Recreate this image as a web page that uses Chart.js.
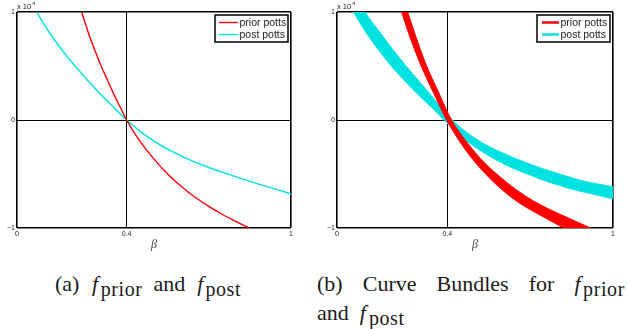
<!DOCTYPE html>
<html><head><meta charset="utf-8">
<script src="https://cdn.jsdelivr.net/npm/chart.js@4.4.0/dist/chart.umd.min.js"></script>
<style>
html,body{margin:0;padding:0;background:#fff;width:627px;height:329px;overflow:hidden;position:relative}
#ca{position:absolute;left:0;top:0}
#cb{position:absolute;left:320px;top:0}
.cap{position:absolute;font-family:"Liberation Serif","DejaVu Serif","Times New Roman",serif;font-size:22px;line-height:29px;color:#1a1a1a;white-space:nowrap}
.cap i{font-style:italic;font-family:"Liberation Serif","DejaVu Serif",serif}
.cap sub{font-family:"Liberation Serif","DejaVu Serif",serif;font-size:20px;vertical-align:-5px;letter-spacing:0.6px;line-height:0}
#capb1{display:flex;justify-content:space-between;width:308px}
</style></head>
<body>
<canvas id="ca" width="310" height="255"></canvas>
<canvas id="cb" width="307" height="255"></canvas>
<div class="cap" style="left:55px;top:269px">(a)<i style="margin-left:12.6px">f</i><sub style="margin-left:2.5px">prior</sub><span style="margin-left:11px">and</span><i style="margin-left:12px">f</i><sub style="margin-left:2px">post</sub></div>
<div class="cap" id="capb1" style="left:317px;top:269px"><span>(b)</span><span>Curve</span><span>Bundles</span><span>for</span><span><i>f</i><sub style="margin-left:2.5px">prior</sub></span></div>
<div class="cap" style="left:317px;top:298px">and<i style="margin-left:11px">f</i><sub style="margin-left:3px">post</sub></div>
<script>
// ---- axes ----
const xTicks = [0, 0.4, 1];
const xTickLabels = ['0', '0.4', '1'];
const yTicks = [-1, 0, 1];
const yTickLabels = ['\u22121', '0', '1'];
const xTitle = '\u03B2';
const expBase = 'x 10';
const expPow = '4';
const seriesNames = ['prior potts', 'post potts'];

// ---- panel (a): single curves (values in units of 10^4) ----
const priorBeta = [0.236, 0.25, 0.266, 0.285, 0.305, 0.33, 0.355, 0.378, 0.40, 0.44, 0.48, 0.52, 0.56, 0.60, 0.65, 0.70, 0.75, 0.80, 0.847];
const priorVal  = [1.0, 0.89, 0.766, 0.64, 0.512, 0.37, 0.23, 0.113, 0.0, -0.165, -0.30, -0.42, -0.525, -0.615, -0.715, -0.80, -0.875, -0.94, -1.0];
const postBeta  = [0.072, 0.10, 0.13, 0.17, 0.208, 0.25, 0.297, 0.35, 0.40, 0.45, 0.50, 0.55, 0.60, 0.65, 0.70, 0.75, 0.80, 0.85, 0.90, 0.95, 1.0];
const postVal   = [1.0, 0.88, 0.766, 0.63, 0.512, 0.39, 0.259, 0.125, 0.0, -0.105, -0.195, -0.27, -0.335, -0.39, -0.44, -0.485, -0.527, -0.568, -0.607, -0.645, -0.685];

// ---- panel (b): bundle edges ----
const priorLoBeta = [0.234, 0.26, 0.30, 0.35, 0.397, 0.45, 0.50, 0.55, 0.60, 0.65, 0.70, 0.75, 0.80, 0.822, 0.86, 0.919];
const priorLoVal  = [1.0, 0.80, 0.53, 0.25, 0.0, -0.22, -0.39, -0.53, -0.65, -0.75, -0.83, -0.90, -0.97, -1.0, -1.04, -1.1];
const priorHiBeta = [0.234, 0.256, 0.282, 0.32, 0.369, 0.415, 0.475, 0.532, 0.592, 0.652, 0.712, 0.772, 0.832, 0.892, 0.919];
const priorHiVal  = [1.17, 1.0, 0.8, 0.53, 0.25, 0.0, -0.22, -0.39, -0.53, -0.65, -0.75, -0.83, -0.90, -0.97, -1.0];
const postLoBeta  = [0.06, 0.10, 0.15, 0.20, 0.25, 0.30, 0.35, 0.388, 0.45, 0.50, 0.55, 0.60, 0.65, 0.70, 0.75, 0.80, 0.85, 0.90, 0.95, 1.0];
const postLoVal   = [1.0, 0.83, 0.65, 0.49, 0.35, 0.22, 0.10, 0.0, -0.15, -0.25, -0.33, -0.40, -0.46, -0.51, -0.56, -0.60, -0.64, -0.67, -0.70, -0.73];
const postHiBeta  = [0.06, 0.101, 0.15, 0.20, 0.25, 0.30, 0.35, 0.418, 0.45, 0.50, 0.55, 0.60, 0.65, 0.70, 0.75, 0.80, 0.85, 0.90, 0.95, 1.0];
const postHiVal   = [1.17, 1.0, 0.83, 0.66, 0.50, 0.35, 0.20, 0.0, -0.075, -0.17, -0.245, -0.305, -0.36, -0.41, -0.455, -0.495, -0.535, -0.57, -0.595, -0.62];

const RED = '#ff0000';
const CYAN = '#00e2e2';
const SANS = '"Liberation Sans", Arial, Helvetica, sans-serif';

const pts = (xs, ys) => xs.map((x, i) => ({x, y: ys[i]}));

const boxLegend = {
  id: 'boxLegend',
  afterDraw(chart, args, opts) {
    const {ctx, chartArea: a} = chart;
    ctx.save();
    ctx.fillStyle = '#222';
    ctx.textAlign = 'left';
    ctx.textBaseline = 'alphabetic';
    ctx.font = '7.5px ' + SANS;
    ctx.fillText(expBase, a.left, a.top - 3.5);
    const w = ctx.measureText(expBase).width;
    ctx.font = '5px ' + SANS;
    ctx.fillText(expPow, a.left + w + 1, a.top - 7);
    const bw = 73, bh = 27;
    const bx = a.right - 3 - bw, by = a.top + 3;
    ctx.fillStyle = '#fff';
    ctx.fillRect(bx, by, bw, bh);
    ctx.strokeStyle = '#000';
    ctx.lineWidth = 1.5;
    ctx.strokeRect(bx, by, bw, bh);
    ctx.font = '10.5px ' + SANS;
    ctx.textBaseline = 'middle';
    opts.colors.forEach((c, i) => {
      const yy = by + 7.5 + 12 * i;
      ctx.strokeStyle = c;
      ctx.lineWidth = opts.lineWidth;
      ctx.beginPath();
      ctx.moveTo(bx + opts.x0, yy);
      ctx.lineTo(bx + opts.x1, yy);
      ctx.stroke();
      ctx.fillStyle = '#222';
      ctx.fillText(seriesNames[i], bx + opts.x1 + 1.5, yy + 0.5);
    });
    ctx.restore();
  }
};

function scales(rightPad) {
  return {
    x: {
      type: 'linear', min: 0, max: 1,
      afterBuildTicks: s => { s.ticks = xTicks.map(v => ({value: v})); },
      afterFit: s => { s.height = 27; },
      ticks: {
        autoSkip: false, maxRotation: 0, padding: 1.5, color: '#222',
        font: {family: SANS, size: 7},
        callback: (v, i) => xTickLabels[i]
      },
      grid: {
        drawTicks: false, color: '#000',
        lineWidth: c => (c.tick && (c.tick.value === 0 || c.tick.value === 1)) ? 1.6 : 1
      },
      border: {display: false},
      title: {
        display: true, text: xTitle, color: '#444',
        font: {family: '"Liberation Serif", "DejaVu Serif", serif', size: 12, style: 'italic'},
        padding: {top: 0, bottom: 3}
      }
    },
    y: {
      type: 'linear', min: -1, max: 1,
      afterBuildTicks: s => { s.ticks = yTicks.map(v => ({value: v})); },
      afterFit: s => { s.width = 17; },
      ticks: {
        autoSkip: false, padding: 2, color: '#222',
        font: {family: SANS, size: 7},
        callback: (v, i) => yTickLabels[i]
      },
      grid: {
        drawTicks: false, color: '#000',
        lineWidth: c => (c.tick && (c.tick.value === -1 || c.tick.value === 1)) ? 1.6 : 1
      },
      border: {display: false}
    }
  };
}

const common = (rightPad, legendOpts) => ({
  responsive: false,
  animation: false,
  layout: {padding: {top: 12, right: rightPad, left: 0, bottom: 0}},
  plugins: {legend: {display: false}, tooltip: {enabled: false}, boxLegend: legendOpts},
  elements: {point: {radius: 0}},
  scales: scales(rightPad)
});

new Chart(document.getElementById('ca'), {
  type: 'line',
  data: {
    datasets: [
      {label: seriesNames[0], data: pts(priorBeta, priorVal), borderColor: RED, borderWidth: 1.4, cubicInterpolationMode: 'monotone', fill: false},
      {label: seriesNames[1], data: pts(postBeta, postVal), borderColor: CYAN, borderWidth: 1.4, cubicInterpolationMode: 'monotone', fill: false}
    ]
  },
  options: common(19, {colors: [RED, CYAN], lineWidth: 1.4, x0: 4, x1: 23}),
  plugins: [boxLegend]
});

new Chart(document.getElementById('cb'), {
  type: 'line',
  data: {
    datasets: [
      {label: seriesNames[0], data: pts(priorLoBeta, priorLoVal), borderColor: RED, borderWidth: 1, cubicInterpolationMode: 'monotone', fill: false},
      {label: seriesNames[0], data: pts(priorHiBeta, priorHiVal), borderColor: RED, backgroundColor: RED, borderWidth: 1, cubicInterpolationMode: 'monotone', fill: '-1'},
      {label: seriesNames[1], data: pts(postLoBeta, postLoVal), borderColor: CYAN, borderWidth: 1, cubicInterpolationMode: 'monotone', fill: false},
      {label: seriesNames[1], data: pts(postHiBeta, postHiVal), borderColor: CYAN, backgroundColor: CYAN, borderWidth: 1, cubicInterpolationMode: 'monotone', fill: '-1'}
    ]
  },
  options: common(14, {colors: [RED, CYAN], lineWidth: 2.5, x0: 5, x1: 22}),
  plugins: [boxLegend]
});
</script>
</body></html>
